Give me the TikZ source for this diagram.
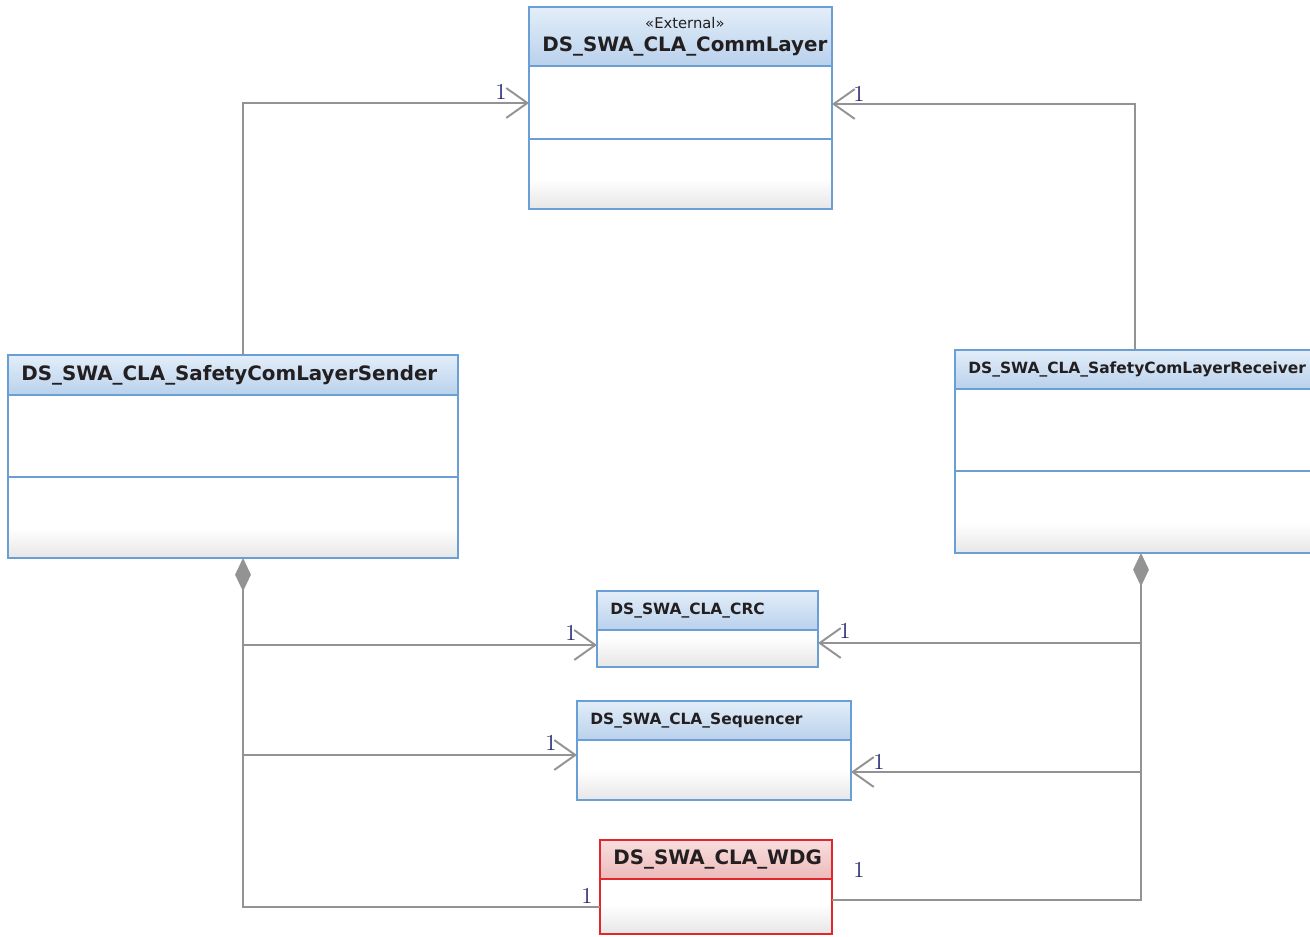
\documentclass[tikz,border=0pt]{standalone}
\usepackage{fontspec}
\setsansfont{DejaVu Sans}
\usetikzlibrary{arrows.meta,calc,positioning}

\definecolor{umlblue}{HTML}{6A9FD6}
\definecolor{headtop}{HTML}{E3EEF9}
\definecolor{headbot}{HTML}{B9D1EC}
\definecolor{umlred}{HTML}{E3262B}
\definecolor{redtop}{HTML}{F8DEDE}
\definecolor{redbot}{HTML}{EDBABA}
\definecolor{bodybot}{HTML}{E6E6E6}
\definecolor{linegray}{HTML}{939393}
\definecolor{multnavy}{HTML}{262673}
\definecolor{titleink}{HTML}{231F20}

\tikzset{
  % class boxes
  cls body/.style  = {rectangle, anchor=north west, inner sep=0pt, outer sep=0pt, fill=white},
  cls foot/.style  = {top color=white, bottom color=bodybot},
  cls title/.style = {anchor=west, inner sep=0pt, align=center,
                      font=\sffamily\bfseries, text=titleink},
  blue cls/.style  = {cls frame/.style={draw=umlblue, line width=1.1pt},
                      cls head/.style={top color=headtop, bottom color=headbot}},
  red cls/.style   = {cls frame/.style={draw=umlred, line width=1.4pt},
                      cls head/.style={top color=redtop, bottom color=redbot}},
  big name/.style  = {cls title/.append style={font=\sffamily\bfseries\fontsize{11.3}{13}\selectfont}},
  small name/.style= {cls title/.append style={font=\sffamily\bfseries\fontsize{8.8}{11}\selectfont}},
  divider/.style   = {draw=umlblue, line width=1pt},
  % links
  assoc/.style = {draw=linegray, line width=1.1pt, -{Straight Barb[length=12pt, width=17pt]}},
  comp/.style  = {draw=linegray, line width=1.1pt, {Diamond[length=19pt, width=9pt]}-},
  mult/.style  = {text=multnavy, inner sep=0pt, font=\fontsize{13}{14}\selectfont},
}
\def\stereo#1{{\normalfont\sffamily\fontsize{8.4}{10}\selectfont #1}}

\begin{document}
\begin{tikzpicture}[x=0.02cm, y=-0.02cm]
\def\px{0.02cm}
\useasboundingbox (0,0) rectangle (1310,936);

\def\umlclass[#1](#2)<#3,#4,#5>#6 at (#7);{
  \begin{scope}[#1]
    \node[cls body, minimum width=#3*\px, minimum height=#4*\px] (#2) at (#7) {};
    \shade[cls foot] ($(#2.south west)+(0,-30)$) rectangle (#2.south east);
    \shade[cls head] (#2.north west) rectangle ($(#2.north east)+(0,#5)$);
    \draw[cls frame] (#2.north west) rectangle (#2.south east);
    \draw[cls frame] ($(#2.north west)+(0,#5)$) -- ($(#2.north east)+(0,#5)$);
    \node[cls title] (#2-title) at ($(#2.north west)+(13,#5/2)$) {#6};
  \end{scope}
}

%---------------------------------------------
\umlclass[blue cls, big name](comm)<303,202,59>{\stereo{«External»}\\DS\_SWA\_CLA\_CommLayer} at (529,7);
\umlclass[blue cls, big name](sender)<450,203,40>{DS\_SWA\_CLA\_SafetyComLayerSender} at (8,355);
\umlclass[blue cls, small name](receiver)<360,203,39>{DS\_SWA\_CLA\_SafetyComLayerReceiver} at (955,350);
\umlclass[blue cls, small name](crc)<221,76,39>{DS\_SWA\_CLA\_CRC} at (597,591);
\umlclass[blue cls, small name](seq)<274,99,39>{DS\_SWA\_CLA\_Sequencer} at (577,701);
\umlclass[red cls, big name](wdg)<232,94,39>{DS\_SWA\_CLA\_WDG} at (600,840);

\draw[divider] ($(comm.north west)+(0,132)$) -- ($(comm.north east)+(0,132)$);
\draw[divider] ($(sender.north west)+(0,122)$) -- ($(sender.north east)+(0,122)$);
\draw[divider] ($(receiver.north west)+(0,121)$) -- ($(receiver.north east)+(0,121)$);

%---------------------------------------------
\draw[assoc] ($(sender.north west)+(235,0)$) |- ($(comm.north west)+(0,96)$);
\draw[assoc] ($(receiver.north west)+(180,0)$) |- ($(comm.north east)+(0,97)$);

\coordinate (sndtrunk) at ($(sender.south west)+(235,0)$);
\coordinate (rcvtrunk) at ($(receiver.south west)+(186,0)$);
\coordinate (crcL) at ($(crc.north west)+(0,54)$);
\coordinate (crcR) at ($(crc.north east)+(0,52)$);
\coordinate (seqL) at ($(seq.north west)+(0,54)$);
\coordinate (seqR) at ($(seq.north east)+(0,71)$);

\draw[comp] (sndtrunk) |- ($(wdg.north west)+(0,67)$);
\draw[comp] (rcvtrunk) |- ($(wdg.north east)+(0,60)$);
\draw[assoc] (sndtrunk |- crcL) -- (crcL);
\draw[assoc] (sndtrunk |- seqL) -- (seqL);
\draw[assoc] (rcvtrunk |- crcR) -- (crcR);
\draw[assoc] (rcvtrunk |- seqR) -- (seqR);

%---------------------------------------------
\node[mult] (m-comm-l) at (501,92)  {1};
\node[mult] (m-comm-r) at (859,94)  {1};
\node[mult] (m-crc-l)  at (571,633) {1};
\node[mult] (m-crc-r)  at (845,631) {1};
\node[mult] (m-seq-l)  at (551,743) {1};
\node[mult] (m-seq-r)  at (879,762) {1};
\node[mult] (m-wdg-l)  at (587,896) {1};
\node[mult] (m-wdg-r)  at (859,870) {1};

\end{tikzpicture}
\end{document}
